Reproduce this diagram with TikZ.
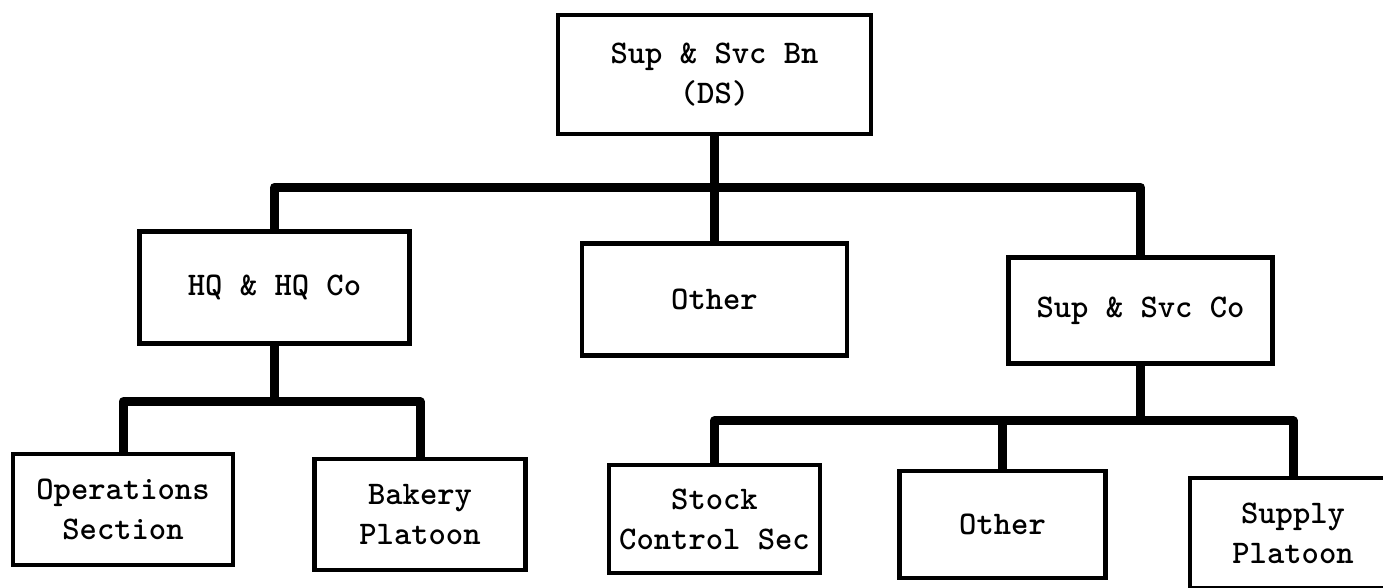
\documentclass[tikz,border=0pt]{standalone}
\usetikzlibrary{positioning}
\tikzset{
  unit/.style={
    draw, line width=4.5pt, fill=white, align=center, inner sep=2pt,
    font=\ttfamily\bfseries\fontsize{33}{40}\selectfont
  },
  trunk/.style={line width=9pt, line join=round}
}
\begin{document}
\begin{tikzpicture}[x=1pt,y=-1pt,node distance=100pt]
    \useasboundingbox (0,0) rectangle (1383,588);
    \clip (0,0) rectangle (1383,588);
    \node[unit,minimum width=313pt,minimum height=119pt] (bn) at (714.5,74.5) {Sup \& Svc Bn\\(DS)};
    \node[unit,below=105pt of bn,minimum width=265pt,minimum height=112pt] (other) {Other};
    \node[unit,left=168pt of other,yshift=12pt,minimum width=270pt,minimum height=112pt] (hq) {HQ \& HQ Co};
    \node[unit,right=157pt of other,yshift=-11pt,minimum width=264pt,minimum height=106pt] (supco) {Sup \& Svc Co};
    \node[unit,below=111pt of hq,xshift=145.5pt,minimum width=211pt,minimum height=111pt] (bakery) {Bakery\\Platoon};
    \node[unit,left=77pt of bakery,yshift=5pt,minimum width=220pt,minimum height=111pt] (ops) {Operations\\Section};
    \node[unit,below=105pt of other,minimum width=211pt,minimum height=108pt] (stock) {Stock\\Control Sec};
    \node[unit,right=75pt of stock,yshift=-5.5pt,minimum width=206pt,minimum height=107pt] (otherco) {Other};
    \node[unit,right=80pt of otherco,yshift=-8.5pt,minimum width=206pt,minimum height=110pt] (supply) {Supply\\Platoon};
    % tie bars
    \coordinate[below=51pt of bn.south] (barbn);
    \coordinate[below=56pt of hq.south] (barhq);
    \coordinate[below=55pt of supco.south] (barco);
    \draw[trunk] (bn.south) -- (other.north);
    \draw[trunk] (hq.north) |- (barbn) -| (supco.north);
    \draw[trunk] (hq.south) -- (barhq);
    \draw[trunk] (ops.north) |- (barhq) -| (bakery.north);
    \draw[trunk] (supco.south) -- (barco);
    \draw[trunk] (stock.north) |- (barco) -| (supply.north);
    \draw[trunk] (otherco.north) -- (otherco.north |- barco);
\end{tikzpicture}
\end{document}
